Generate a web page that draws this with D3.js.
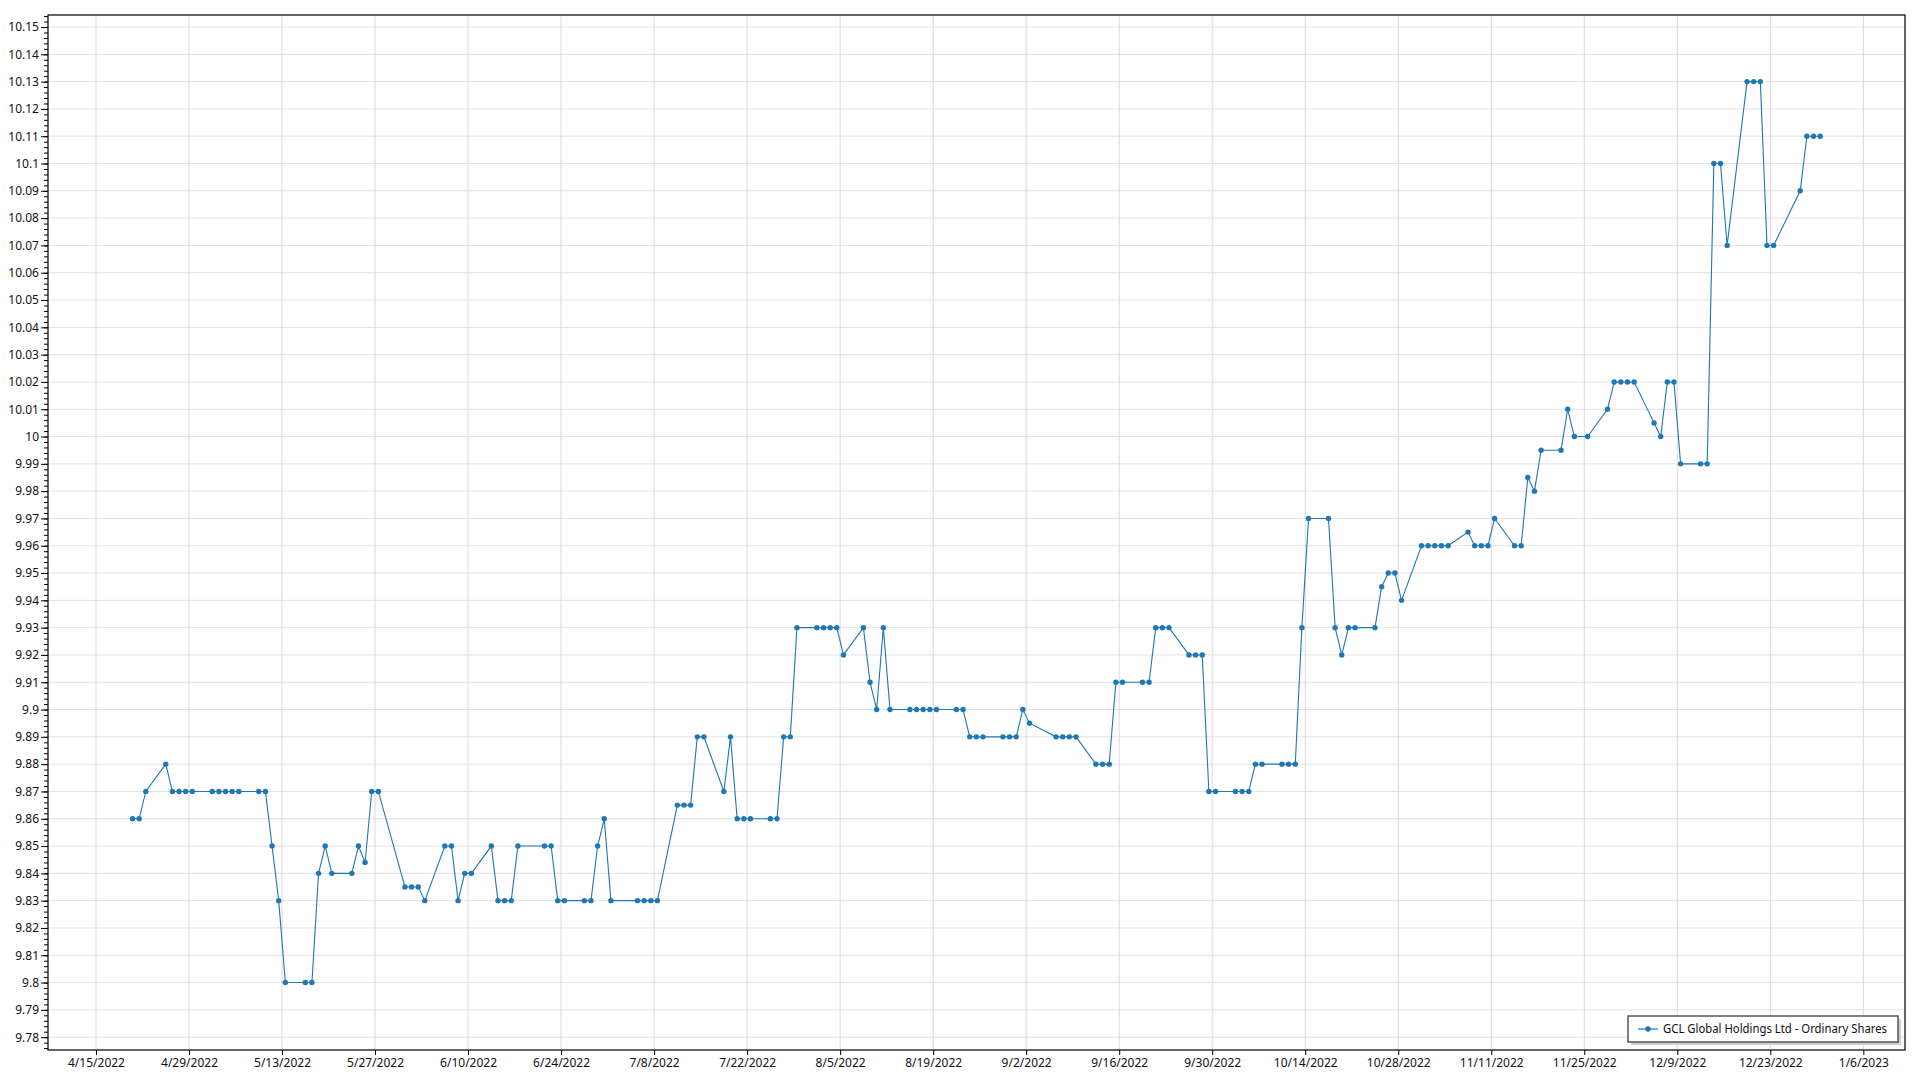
<!DOCTYPE html>
<html><head><meta charset="utf-8">
<script src="https://cdn.jsdelivr.net/npm/d3@7"></script>
<style>
body{margin:0;background:#fff;}
svg{display:block;font-family:"Segoe UI","Noto Sans","Open Sans",sans-serif;}
</style>
</head><body>
<svg id="chart" width="1920" height="1080"></svg>
<script>
const seriesName = "GCL Global Holdings Ltd - Ordinary Shares";
const dates = [
"2022-04-20","2022-04-21","2022-04-22","2022-04-25","2022-04-26","2022-04-27","2022-04-28","2022-04-29",
"2022-05-02","2022-05-03","2022-05-04","2022-05-05","2022-05-06","2022-05-09","2022-05-10","2022-05-11","2022-05-12","2022-05-13",
"2022-05-16","2022-05-17","2022-05-18","2022-05-19","2022-05-20","2022-05-23","2022-05-24","2022-05-25","2022-05-26","2022-05-27",
"2022-05-31","2022-06-01","2022-06-02","2022-06-03","2022-06-06","2022-06-07","2022-06-08","2022-06-09","2022-06-10",
"2022-06-13","2022-06-14","2022-06-15","2022-06-16","2022-06-17","2022-06-21","2022-06-22","2022-06-23","2022-06-24",
"2022-06-27","2022-06-28","2022-06-29","2022-06-30","2022-07-01","2022-07-05","2022-07-06","2022-07-07","2022-07-08",
"2022-07-11","2022-07-12","2022-07-13","2022-07-14","2022-07-15","2022-07-18","2022-07-19","2022-07-20","2022-07-21","2022-07-22",
"2022-07-25","2022-07-26","2022-07-27","2022-07-28","2022-07-29","2022-08-01","2022-08-02","2022-08-03","2022-08-04","2022-08-05",
"2022-08-08","2022-08-09","2022-08-10","2022-08-11","2022-08-12","2022-08-15","2022-08-16","2022-08-17","2022-08-18","2022-08-19",
"2022-08-22","2022-08-23","2022-08-24","2022-08-25","2022-08-26","2022-08-29","2022-08-30","2022-08-31","2022-09-01","2022-09-02",
"2022-09-06","2022-09-07","2022-09-08","2022-09-09","2022-09-12","2022-09-13","2022-09-14","2022-09-15","2022-09-16",
"2022-09-19","2022-09-20","2022-09-21","2022-09-22","2022-09-23","2022-09-26","2022-09-27","2022-09-28","2022-09-29","2022-09-30",
"2022-10-03","2022-10-04","2022-10-05","2022-10-06","2022-10-07","2022-10-10","2022-10-11","2022-10-12","2022-10-13","2022-10-14",
"2022-10-17","2022-10-18","2022-10-19","2022-10-20","2022-10-21","2022-10-24","2022-10-25","2022-10-26","2022-10-27","2022-10-28",
"2022-10-31","2022-11-01","2022-11-02","2022-11-03","2022-11-04","2022-11-07","2022-11-08","2022-11-09","2022-11-10","2022-11-11",
"2022-11-14","2022-11-15","2022-11-16","2022-11-17","2022-11-18","2022-11-21","2022-11-22","2022-11-23","2022-11-25",
"2022-11-28","2022-11-29","2022-11-30","2022-12-01","2022-12-02","2022-12-05","2022-12-06","2022-12-07","2022-12-08","2022-12-09",
"2022-12-12","2022-12-13","2022-12-14","2022-12-15","2022-12-16","2022-12-19","2022-12-20","2022-12-21","2022-12-22","2022-12-23",
"2022-12-27","2022-12-28","2022-12-29","2022-12-30"
];
const prices = [
9.86,9.86,9.87,9.88,9.87,9.87,9.87,9.87,
9.87,9.87,9.87,9.87,9.87,9.87,9.87,9.85,9.83,9.80,
9.80,9.80,9.84,9.85,9.84,9.84,9.85,9.844,9.87,9.87,
9.835,9.835,9.835,9.83,9.85,9.85,9.83,9.84,9.84,
9.85,9.83,9.83,9.83,9.85,9.85,9.85,9.83,9.83,
9.83,9.83,9.85,9.86,9.83,9.83,9.83,9.83,9.83,
9.865,9.865,9.865,9.89,9.89,9.87,9.89,9.86,9.86,9.86,
9.86,9.86,9.89,9.89,9.93,9.93,9.93,9.93,9.93,9.92,
9.93,9.91,9.90,9.93,9.90,9.90,9.90,9.90,9.90,9.90,
9.90,9.90,9.89,9.89,9.89,9.89,9.89,9.89,9.90,9.895,
9.89,9.89,9.89,9.89,9.88,9.88,9.88,9.91,9.91,
9.91,9.91,9.93,9.93,9.93,9.92,9.92,9.92,9.87,9.87,
9.87,9.87,9.87,9.88,9.88,9.88,9.88,9.88,9.93,9.97,
9.97,9.93,9.92,9.93,9.93,9.93,9.945,9.95,9.95,9.94,
9.96,9.96,9.96,9.96,9.96,9.965,9.96,9.96,9.96,9.97,
9.96,9.96,9.985,9.98,9.995,9.995,10.01,10.00,10.00,
10.01,10.02,10.02,10.02,10.02,10.005,10.00,10.02,10.02,9.99,
9.99,9.99,10.10,10.10,10.07,10.13,10.13,10.13,10.07,10.07,
10.09,10.11,10.11,10.11
];
const xTickDates = ["2022-04-15","2022-04-29","2022-05-13","2022-05-27","2022-06-10","2022-06-24","2022-07-08","2022-07-22",
"2022-08-05","2022-08-19","2022-09-02","2022-09-16","2022-09-30","2022-10-14","2022-10-28","2022-11-11","2022-11-25",
"2022-12-09","2022-12-23","2023-01-06"];
const yTickValues = d3.range(978, 1016).map(v => v / 100);
const yMinorTicks = d3.range(9776, 10156, 2).map(v => v / 1000);
const xDomain = ["2022-04-07T18:40", "2023-01-12T06:30"];
const yDomain = [9.7753, 10.1544];

const parse = d3.timeParse("%Y-%m-%d");
const parseT = d3.timeParse("%Y-%m-%dT%H:%M");
const data = dates.map((s, i) => ({date: d3.timeHour.offset(parse(s), 12), value: prices[i]}));

const L = 48, T = 15, R = 1905, B = 1050;
const svg = d3.select("#chart");
const x = d3.scaleTime().domain(xDomain.map(parseT)).range([L, R]);
const y = d3.scaleLinear().domain(yDomain).range([B, T]);
const xTicks = xTickDates.map(parse);
const color = "#1f77b4";

// grid
const grid = svg.append("g");
grid.selectAll(".hg").data(yTickValues).join("line")
  .attr("x1", L).attr("x2", R).attr("y1", d => y(d)).attr("y2", d => y(d))
  .attr("stroke", "#e2e2e2").attr("stroke-width", 1);
grid.selectAll(".vg").data(xTicks).join("line")
  .attr("y1", T).attr("y2", B).attr("x1", d => x(d)).attr("x2", d => x(d))
  .attr("stroke", "#dadada").attr("stroke-width", 1);

// series
svg.append("path").datum(data)
  .attr("fill", "none").attr("stroke", color).attr("stroke-width", 1.1)
  .attr("d", d3.line().x(d => x(d.date)).y(d => y(d.value)));
svg.append("g").selectAll("circle").data(data).join("circle")
  .attr("cx", d => x(d.date)).attr("cy", d => y(d.value)).attr("r", 2.7)
  .attr("fill", color);

// axes
const fmtY = d => String(+d.toFixed(2));
const yAxis = svg.append("g").attr("transform", `translate(${L},0)`)
  .call(d3.axisLeft(y).tickValues(yTickValues).tickSize(7).tickPadding(2).tickFormat(fmtY));
const yMinor = svg.append("g").attr("transform", `translate(${L},0)`)
  .call(d3.axisLeft(y).tickValues(yMinorTicks).tickSize(4).tickFormat(""));
const xAxis = svg.append("g").attr("transform", `translate(0,${B})`)
  .call(d3.axisBottom(x).tickValues(xTicks).tickSize(5).tickPadding(3).tickFormat(d3.timeFormat("%-m/%-d/%Y")));
[yAxis, yMinor, xAxis].forEach(g => {
  g.attr("font-family", null);
  g.select(".domain").remove();
  g.selectAll("text").attr("font-size", 12).attr("fill", "#111");
  g.selectAll("line").attr("stroke", "#000");
});

// frame
svg.append("rect").attr("x", L).attr("y", T).attr("width", R - L).attr("height", B - T)
  .attr("fill", "none").attr("stroke", "#000").attr("stroke-width", 1.2);

// legend
const lg = svg.append("g");
const lx = 1628, ly = 1016, lw = 270, lh = 26;
lg.append("rect").attr("x", lx + 3).attr("y", ly + 3).attr("width", lw).attr("height", lh).attr("fill", "#cfcfcf");
lg.append("rect").attr("x", lx).attr("y", ly).attr("width", lw).attr("height", lh)
  .attr("fill", "#fff").attr("stroke", "#555").attr("stroke-width", 1.5);
lg.append("line").attr("x1", lx + 10).attr("x2", lx + 30).attr("y1", ly + lh / 2).attr("y2", ly + lh / 2)
  .attr("stroke", color).attr("stroke-opacity", 0.6).attr("stroke-width", 2);
lg.append("circle").attr("cx", lx + 20).attr("cy", ly + lh / 2).attr("r", 2.7).attr("fill", color);
lg.append("text").attr("x", lx + 35).attr("y", ly + lh / 2).attr("dy", "0.35em")
  .attr("font-size", 12).attr("fill", "#111")
  .attr("textLength", 224).attr("lengthAdjust", "spacingAndGlyphs")
  .text(seriesName);
</script>
</body></html>
